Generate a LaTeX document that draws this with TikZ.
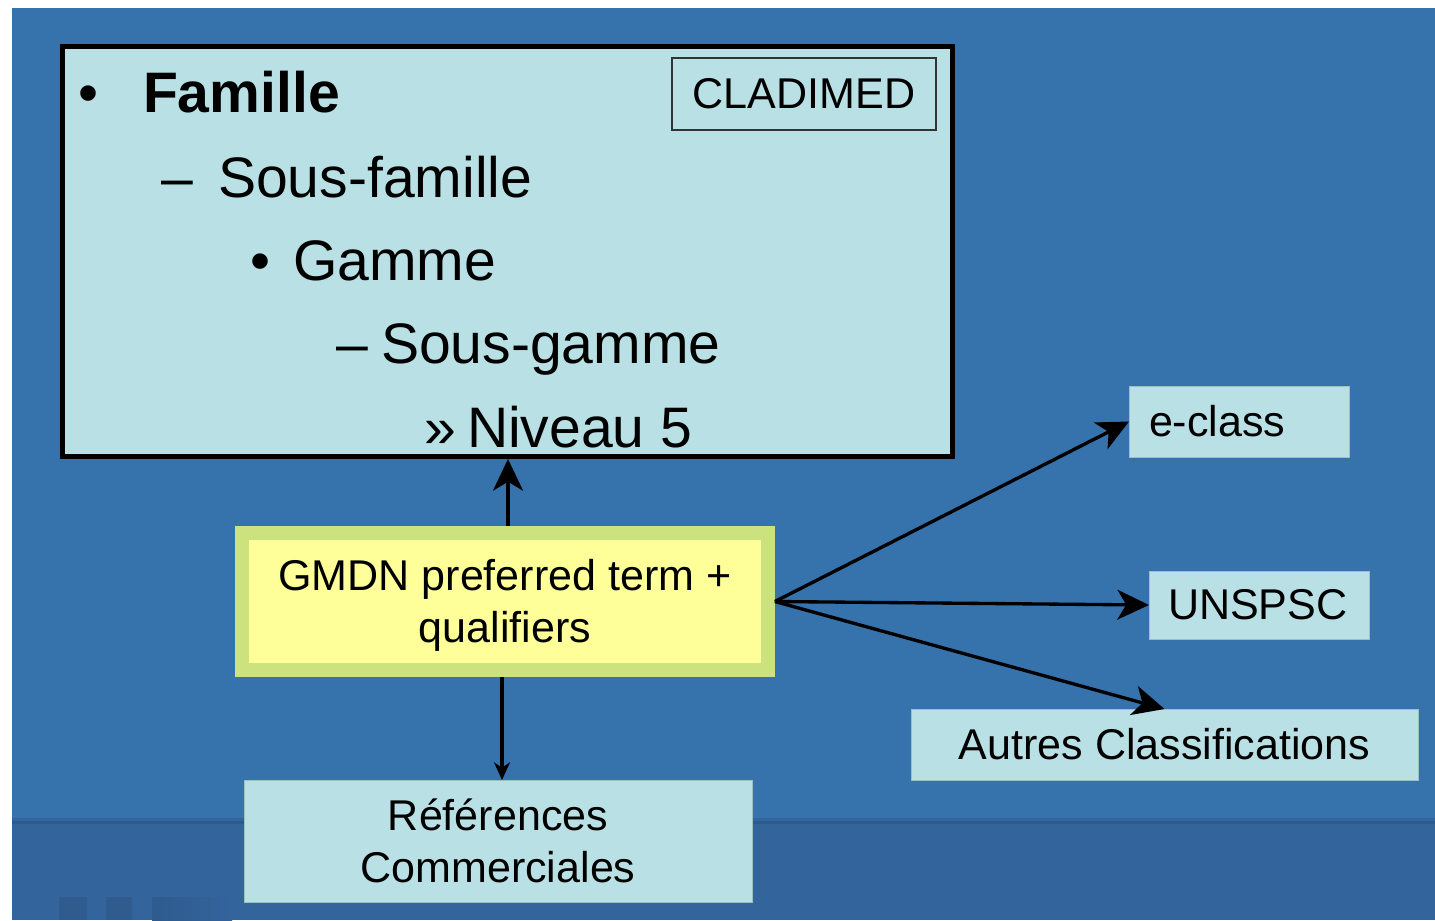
\documentclass[tikz,border=0pt]{standalone}
\usepackage{fontspec}
\setmainfont{Liberation Sans}
\usetikzlibrary{arrows.meta}
\definecolor{bgblue}{HTML}{3672AC}
\definecolor{bandblue}{HTML}{33649C}
\definecolor{bandline}{HTML}{2D5A8D}
\definecolor{sqblue}{HTML}{2F5B8E}
\definecolor{boxcyan}{HTML}{B9E0E4}
\definecolor{ylw}{HTML}{FFFF99}
\definecolor{ygreen}{HTML}{CCE27F}
\tikzset{
  pxbox/.style={inner sep=0pt, outer sep=0pt, rectangle},
  cyanbox/.style={pxbox, fill=boxcyan, draw=boxcyan!85!black, line width=0.4pt},
  big/.style={font=\fontsize{32.5}{39}\selectfont},
  small/.style={font=\fontsize{24.5}{29.5}\selectfont},
  item/.style={anchor=base west, inner sep=0pt, outer sep=0pt},
  conn/.style={line width=1.9pt, -{Stealth[length=18pt, width=17pt, inset=5pt]}},
  connsmall/.style={line width=1.9pt, -{Stealth[length=10pt, width=9pt, inset=3pt]}}
}
\begin{document}
\begin{tikzpicture}[x=0.02cm, y=-0.02cm]
\useasboundingbox (0,0) rectangle (1435,920);
\fill[white] (0,0) rectangle (1435,920);
\fill[bgblue] (12,8) rectangle (1435,920);
\fill[bandblue] (12,818) rectangle (1435,920);
\fill[bandline] (12,821) rectangle (1435,824);
\fill[sqblue] (59,897) rectangle (87,920);
\fill[sqblue] (106,897) rectangle (132,920);
\shade[left color=sqblue, right color=bandblue] (152,897) rectangle (232,920);

% main CLADIMED box
\node[pxbox, fill=boxcyan, draw=black, line width=2.8pt,
  minimum width=890*0.02cm, minimum height=410*0.02cm,
  outer sep=1.4pt] (m) at (507.5,251.5) {};
\node[pxbox, draw=black!80, line width=0.8pt, fill=boxcyan,
  minimum width=264*0.02cm, minimum height=72*0.02cm, small] (c) at (804,94) {CLADIMED};

\node[item, big] (b1) at (78,112) {•};
\node[item, big] (t1) at (143,112) {\bfseries Famille};
\node[item, big] (b2) at (161,197) {–};
\node[item, big] (t2) at (218,197) {Sous-famille};
\node[item, big] (b3) at (250,280) {•};
\node[item, big] (t3) at (293,280) {Gamme};
\node[item, big] (b4) at (336,363) {–};
\node[item, big] (t4) at (381,363) {Sous-gamme};
\node[item, big] (b5) at (424,447) {»};
\node[item, big] (t5) at (467,447) {Niveau 5};

% GMDN box
\node[pxbox, fill=ylw, draw=ygreen, line width=7.9pt, outer sep=3.95pt,
  minimum width=526*0.02cm, minimum height=137*0.02cm,
  small] (g) at (505,601.5) {\raisebox{-2.8pt}[\height][\depth]{\begin{tabular}{@{}c@{}}GMDN preferred term +\\qualifiers\end{tabular}}};

% targets
\node[cyanbox, minimum height=71*0.02cm, inner xsep=20*0.02cm,
  text width=180*0.02cm, align=left, small] (e) at (1239,421.5) {e-class};
\node[cyanbox, minimum height=68*0.02cm, inner xsep=19*0.02cm,
  text width=182*0.02cm, align=left, small] (u) at (1259,605) {UNSPSC};
\node[cyanbox, minimum width=507*0.02cm, minimum height=71*0.02cm,
  small] (a) at (1164.5,744.5) {Autres Classifications};
\node[cyanbox, minimum width=508*0.02cm, minimum height=122*0.02cm,
  small, align=center] (r) at (498,841) {Références\\Commerciales};

% connectors
\draw[conn] ([xshift=3*0.02cm]g.north) -- ([xshift=3*0.02cm]g.north |- m.south);
\draw[connsmall] ([xshift=-3*0.02cm]g.south) -- ([xshift=-3*0.02cm]g.south |- r.north);
\draw[conn] (g.east) -- (e.west);
\draw[conn] (g.east) -- (u.west);
\draw[conn] (g.east) -- (a.north);
\end{tikzpicture}
\end{document}
